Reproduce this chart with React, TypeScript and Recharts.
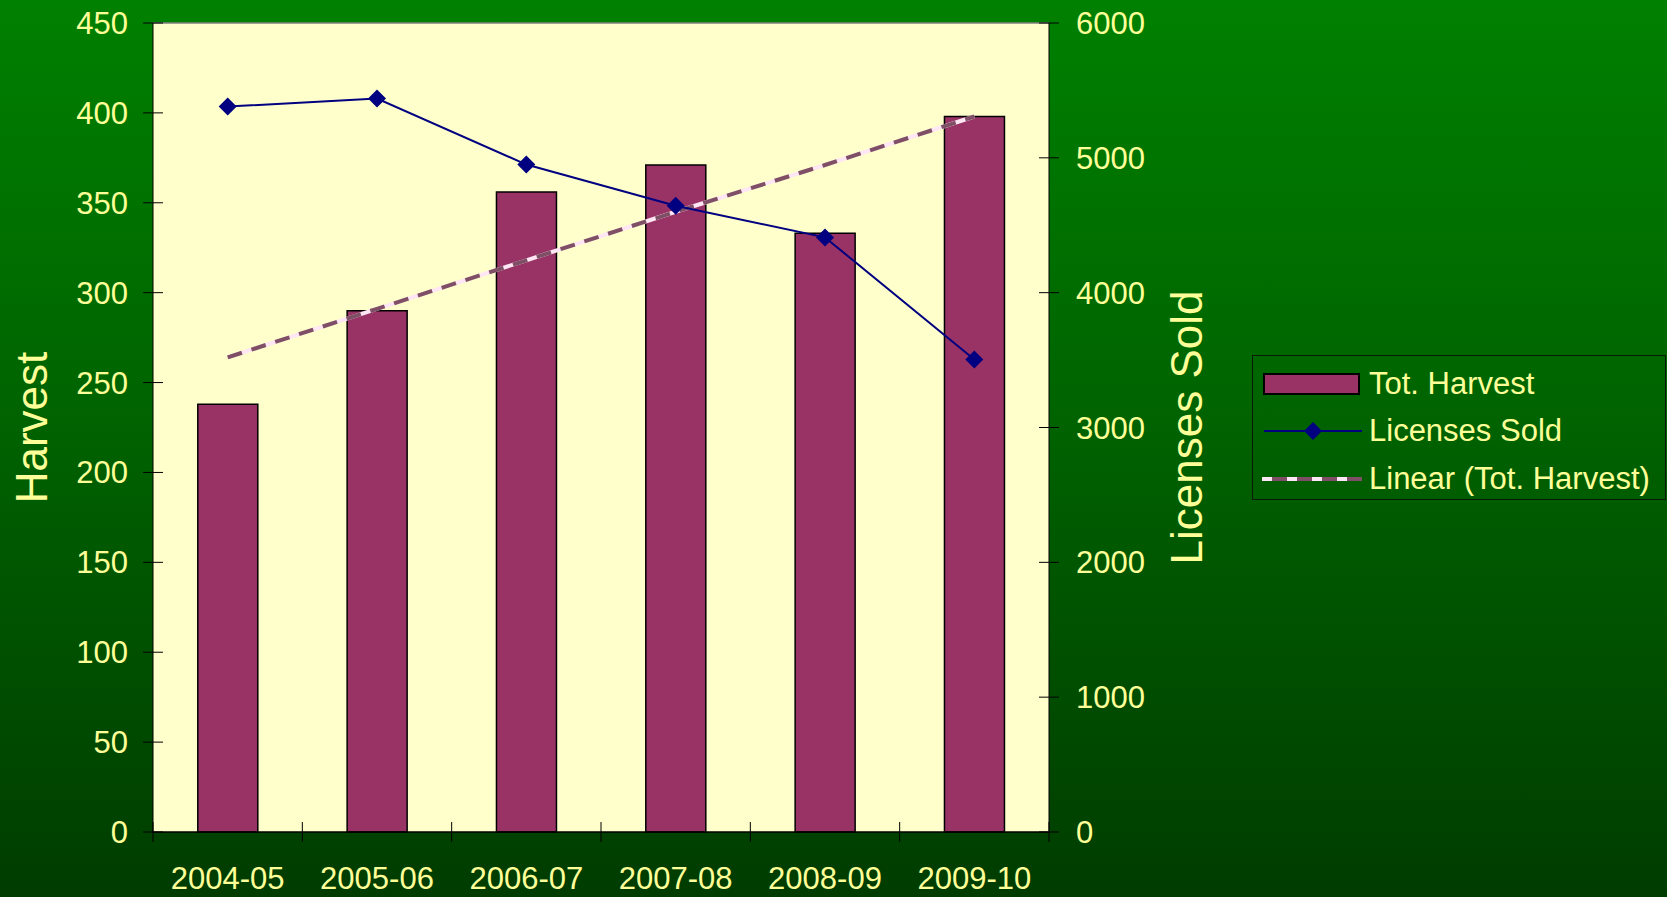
import React from 'react';
import {
  ComposedChart,
  Bar,
  Line,
  XAxis,
  YAxis,
  CartesianGrid,
  ReferenceLine,
  Legend,
} from 'recharts';

// harvest vs. licences
const seasons = ['2004-05', '2005-06', '2006-07', '2007-08', '2008-09', '2009-10'];
const totHarvest = [238, 290, 356, 371, 333, 398];
const licensesSold = [5380, 5440, 4950, 4645, 4410, 3505];
const harvestTrend = [264, 291, 318, 345, 371, 398];

const harvestTicks = [0, 50, 100, 150, 200, 250, 300, 350, 400, 450];
const licenseTicks = [0, 1000, 2000, 3000, 4000, 5000, 6000];

const FONT = '"Liberation Sans", Arial, sans-serif';
const TEXT = '#FFFF99';
const BAR_FILL = '#993366';
const NAVY = '#000080';
const TREND_DASH = '#7F4F66';
const TREND_BASE = '#FFE6F4';
const TICK_FONT = 31;

const chartData = seasons.map((season, i) => ({
  season,
  harvest: totHarvest[i],
  licenses: licensesSold[i],
  trend: harvestTrend[i],
}));

const Diamond = (props: any) => {
  const { cx, cy, index } = props;
  if (cx == null || cy == null) return null;
  const r = 9;
  return (
    <path
      key={`dot-${index}`}
      d={`M${cx} ${cy - r}L${cx + r} ${cy}L${cx} ${cy + r}L${cx - r} ${cy}Z`}
      fill={NAVY}
    />
  );
};

// excel style: tick marks sit on the category boundaries and cross the axis
const SeasonTick = (props: any) => {
  const { x, y, payload, index, visibleTicksCount } = props;
  const half = payload?.offset ?? 0;
  const last = index === visibleTicksCount - 1;
  return (
    <g>
      <line x1={x - half} x2={x - half} y1={y - 10} y2={y + 10} stroke="#000" />
      {last && <line x1={x + half} x2={x + half} y1={y - 10} y2={y + 10} stroke="#000" />}
      <text x={x} y={y} dy={57} textAnchor="middle" fill={TEXT} fontSize={TICK_FONT} fontFamily={FONT}>
        {payload.value}
      </text>
    </g>
  );
};

const LeftTick = (props: any) => {
  const { x, y, payload } = props;
  return (
    <g>
      <line x1={x - 10} x2={x + 10} y1={y} y2={y} stroke="#000" />
      <text x={x - 25} y={y} dy="0.355em" textAnchor="end" fill={TEXT} fontSize={TICK_FONT} fontFamily={FONT}>
        {payload.value}
      </text>
    </g>
  );
};

const RightTick = (props: any) => {
  const { x, y, payload } = props;
  return (
    <g>
      <line x1={x - 10} x2={x + 10} y1={y} y2={y} stroke="#000" />
      <text x={x + 27} y={y} dy="0.355em" textAnchor="start" fill={TEXT} fontSize={TICK_FONT} fontFamily={FONT}>
        {payload.value}
      </text>
    </g>
  );
};

function LegendBox(): React.JSX.Element {
  const row: React.CSSProperties = {
    display: 'flex',
    alignItems: 'center',
    height: 47.5,
  };
  const label: React.CSSProperties = {
    marginLeft: 7,
    fontSize: 31,
    color: TEXT,
    fontFamily: FONT,
    whiteSpace: 'nowrap',
  };
  return (
    <div
      style={{
        boxSizing: 'border-box',
        width: 414,
        height: 145,
        border: '1px solid #0a1a0a',
        paddingTop: 4,
        paddingLeft: 9,
      }}
    >
      <div style={row}>
        <svg width={100} height={24}>
          <rect x={2} y={2} width={95} height={20} fill={BAR_FILL} stroke="#000" strokeWidth={2} />
        </svg>
        <span style={label}>Tot. Harvest</span>
      </div>
      <div style={row}>
        <svg width={100} height={24}>
          <line x1={2} y1={12} x2={100} y2={12} stroke={NAVY} strokeWidth={2} />
          <path d="M51 3L60 12L51 21L42 12Z" fill={NAVY} />
        </svg>
        <span style={label}>Licenses Sold</span>
      </div>
      <div style={row}>
        <svg width={100} height={24}>
          <line x1={0} y1={12} x2={100} y2={12} stroke={TREND_BASE} strokeWidth={4} />
          <line
            x1={0}
            y1={12}
            x2={100}
            y2={12}
            stroke={TREND_DASH}
            strokeWidth={4}
            strokeDasharray="15 10"
            strokeDashoffset={-10}
          />
        </svg>
        <span style={label}>Linear (Tot. Harvest)</span>
      </div>
    </div>
  );
}

export default function App(): React.JSX.Element {
  return (
    <div
      style={{
        position: 'absolute',
        left: 0,
        top: 0,
        width: 1667,
        height: 897,
        background: 'linear-gradient(to bottom, #008000 0%, #006400 45%, #003C00 100%)',
        fontFamily: FONT,
      }}
    >
      <ComposedChart
        width={1667}
        height={897}
        data={chartData}
        margin={{ top: 23, right: 418, bottom: 0, left: 0 }}
        barCategoryGap="30%"
      >
        <CartesianGrid horizontal={false} vertical={false} fill="#FFFFCC" />
        <XAxis
          dataKey="season"
          height={65}
          tickLine={false}
          tickSize={0}
          tickMargin={0}
          axisLine={{ stroke: '#000', strokeWidth: 1.5 }}
          tick={SeasonTick}
          interval={0}
        />
        <YAxis
          yAxisId="left"
          domain={[0, 450]}
          ticks={harvestTicks}
          width={153}
          tickSize={0}
          tickMargin={0}
          tickLine={false}
          axisLine={{ stroke: '#000' }}
          tick={LeftTick}
          interval={0}
          label={{
            value: 'Harvest',
            angle: -90,
            position: 'insideLeft',
            offset: 31,
            style: { textAnchor: 'middle', fill: TEXT, fontSize: 44, fontFamily: FONT },
          }}
        />
        <YAxis
          yAxisId="right"
          orientation="right"
          domain={[0, 6000]}
          ticks={licenseTicks}
          width={200}
          tickSize={0}
          tickMargin={0}
          tickLine={false}
          axisLine={{ stroke: '#000' }}
          tick={RightTick}
          interval={0}
          label={{
            value: 'Licenses Sold',
            angle: -90,
            position: 'insideRight',
            offset: 63,
            style: { textAnchor: 'middle', fill: TEXT, fontSize: 44, fontFamily: FONT },
          }}
        />
        <ReferenceLine yAxisId="left" y={450} stroke="#808080" strokeWidth={1.5} />
        <Bar
          yAxisId="left"
          dataKey="harvest"
          name="Tot. Harvest"
          fill={BAR_FILL}
          stroke="#000"
          strokeWidth={1.5}
          isAnimationActive={false}
        />
        <Line
          yAxisId="left"
          dataKey="trend"
          stroke={TREND_BASE}
          strokeWidth={4}
          dot={false}
          activeDot={false}
          legendType="none"
          isAnimationActive={false}
        />
        <Line
          yAxisId="left"
          dataKey="trend"
          name="Linear (Tot. Harvest)"
          stroke={TREND_DASH}
          strokeWidth={4}
          strokeDasharray="15 10"
          dot={false}
          activeDot={false}
          isAnimationActive={false}
        />
        <Line
          yAxisId="right"
          dataKey="licenses"
          name="Licenses Sold"
          stroke={NAVY}
          strokeWidth={2}
          dot={Diamond}
          activeDot={false}
          isAnimationActive={false}
        />
        <Legend
          layout="vertical"
          align="center"
          verticalAlign="middle"
          content={() => <LegendBox />}
          wrapperStyle={{ position: 'absolute', left: 1252, top: 355, width: 414, height: 145 }}
        />
      </ComposedChart>
    </div>
  );
}
